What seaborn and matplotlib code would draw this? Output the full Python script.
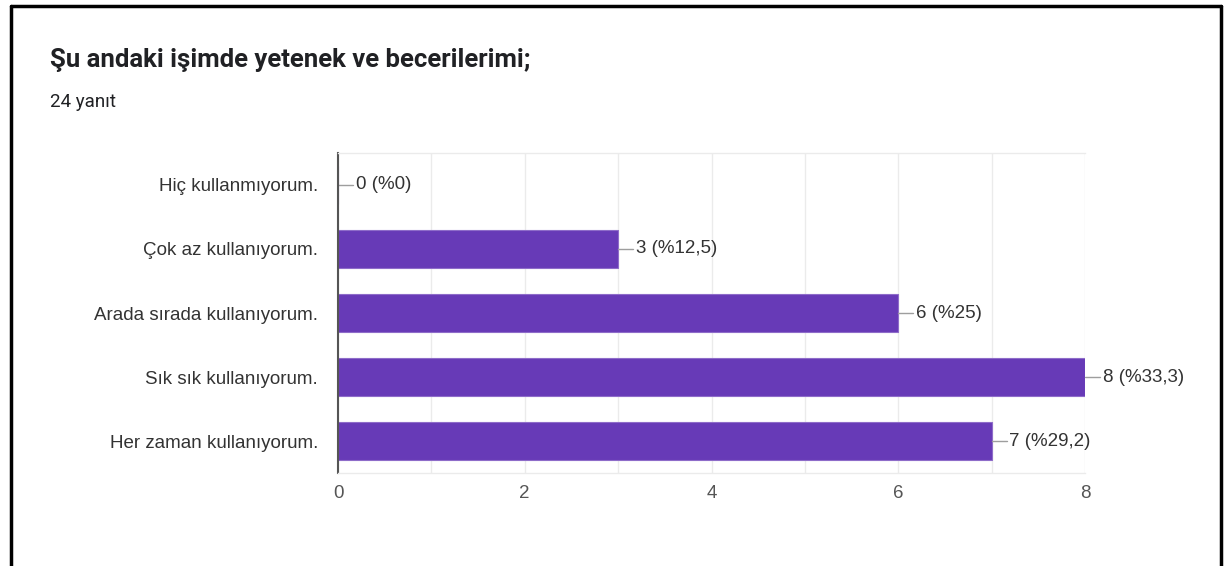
import matplotlib
matplotlib.use("Agg")
import matplotlib.pyplot as plt
from matplotlib.lines import Line2D
from matplotlib.ticker import MultipleLocator
import pandas as pd
import seaborn as sns

# chart data
title = "Şu andaki işimde yetenek ve becerilerimi;"
subtitle = "24 yanıt"
categories = [
    "Hiç kullanmıyorum.",
    "Çok az kullanıyorum.",
    "Arada sırada kullanıyorum.",
    "Sık sık kullanıyorum.",
    "Her zaman kullanıyorum.",
]
counts = [0, 3, 6, 8, 7]
percents = ["0", "12,5", "25", "33,3", "29,2"]
x_ticks = [0, 2, 4, 6, 8]

BAR_COLOR = "#673ab7"
TEXT_COLOR = "#333333"

sns.set_theme(style="white")
plt.rcParams["font.family"] = ["Liberation Sans", "DejaVu Sans"]

df = pd.DataFrame({"category": categories, "count": counts})

fig = plt.figure(figsize=(12.24, 5.66), dpi=100)
ax = fig.add_axes([338 / 1224, 93 / 566, 747 / 1224, 320 / 566])

sns.barplot(data=df, x="count", y="category", order=categories, color=BAR_COLOR,
            saturation=1, width=0.59, edgecolor="#8e6cc9", linewidth=0.8, ax=ax)

ax.set_xlim(0, 8)
ax.set_ylim(len(categories) - 0.5, -0.5)
ax.set_xticks(x_ticks)
ax.xaxis.set_minor_locator(MultipleLocator(1))
ax.grid(True, axis="x", which="both", color="#ebebeb", linewidth=1)
ax.set_axisbelow(True)
ax.set_xlabel("")
ax.set_ylabel("")

for side in ["top", "bottom"]:
    ax.spines[side].set_visible(True)
    ax.spines[side].set_color("#ebebeb")
    ax.spines[side].set_linewidth(1)
ax.spines["right"].set_visible(False)
ax.spines["left"].set_color("#555555")
ax.spines["left"].set_linewidth(1.5)

ax.tick_params(axis="y", length=0, pad=14.4, labelsize=13.5, labelcolor=TEXT_COLOR)
ax.tick_params(axis="x", which="both", length=0, pad=9, labelsize=13.5, labelcolor="#555555")

# value labels with leader lines
for i, (val, pct) in enumerate(zip(counts, percents)):
    ax.plot([val, val + 0.16], [i, i], color="#9e9e9e", linewidth=1, clip_on=False)
    ax.text(val + 0.19, i, f"{val} (%{pct})", va="center", ha="left",
            fontsize=13.5, color=TEXT_COLOR, clip_on=False)

fig.text(50 / 1224, 1 - 60 / 566, title, fontsize=18.5, fontweight="bold",
         family=["Roboto", "DejaVu Sans"], color="#202124", va="center")
fig.text(50 / 1224, 1 - 102 / 566, subtitle, fontsize=13.5,
         family=["Roboto", "DejaVu Sans"], color="#202124", va="center")

# screenshot frame
fig.add_artist(Line2D([11 / 1224, 11 / 1224], [0, 1 - 6 / 566], color="black", linewidth=2.5))
fig.add_artist(Line2D([11 / 1224, 1221 / 1224], [1 - 6 / 566, 1 - 6 / 566], color="black", linewidth=2.5))
fig.add_artist(Line2D([1221 / 1224, 1221 / 1224], [0, 1 - 6 / 566], color="black", linewidth=2.5))

fig.savefig("out.png", dpi=100, facecolor="white")
